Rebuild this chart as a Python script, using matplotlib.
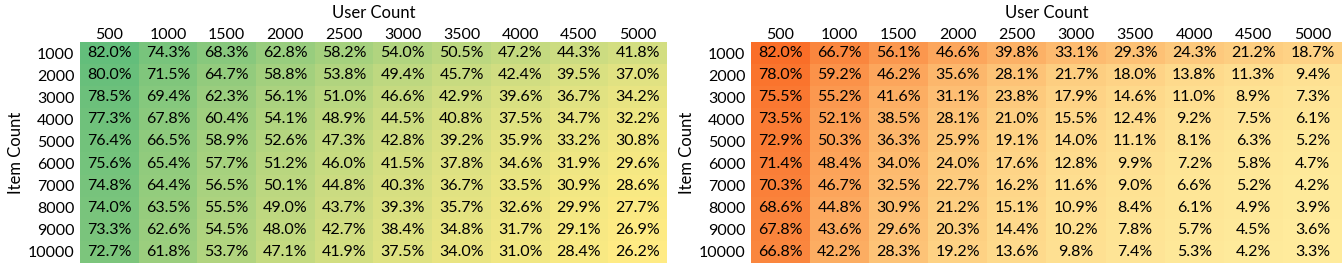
import numpy as np
import matplotlib
matplotlib.use("Agg")
from matplotlib import pyplot as plt
from matplotlib.colors import LinearSegmentedColormap

plt.rcParams['font.family'] = ['Lato', 'DejaVu Sans']

user_counts = [500, 1000, 1500, 2000, 2500, 3000, 3500, 4000, 4500, 5000]
item_counts = [1000, 2000, 3000, 4000, 5000, 6000, 7000, 8000, 9000, 10000]

# left table (green)
left_vals = [
    [82.0, 74.3, 68.3, 62.8, 58.2, 54.0, 50.5, 47.2, 44.3, 41.8],
    [80.0, 71.5, 64.7, 58.8, 53.8, 49.4, 45.7, 42.4, 39.5, 37.0],
    [78.5, 69.4, 62.3, 56.1, 51.0, 46.6, 42.9, 39.6, 36.7, 34.2],
    [77.3, 67.8, 60.4, 54.1, 48.9, 44.5, 40.8, 37.5, 34.7, 32.2],
    [76.4, 66.5, 58.9, 52.6, 47.3, 42.8, 39.2, 35.9, 33.2, 30.8],
    [75.6, 65.4, 57.7, 51.2, 46.0, 41.5, 37.8, 34.6, 31.9, 29.6],
    [74.8, 64.4, 56.5, 50.1, 44.8, 40.3, 36.7, 33.5, 30.9, 28.6],
    [74.0, 63.5, 55.5, 49.0, 43.7, 39.3, 35.7, 32.6, 29.9, 27.7],
    [73.3, 62.6, 54.5, 48.0, 42.7, 38.4, 34.8, 31.7, 29.1, 26.9],
    [72.7, 61.8, 53.7, 47.1, 41.9, 37.5, 34.0, 31.0, 28.4, 26.2],
]

# right table (orange)
right_vals = [
    [82.0, 66.7, 56.1, 46.6, 39.8, 33.1, 29.3, 24.3, 21.2, 18.7],
    [78.0, 59.2, 46.2, 35.6, 28.1, 21.7, 18.0, 13.8, 11.3, 9.4],
    [75.5, 55.2, 41.6, 31.1, 23.8, 17.9, 14.6, 11.0, 8.9, 7.3],
    [73.5, 52.1, 38.5, 28.1, 21.0, 15.5, 12.4, 9.2, 7.5, 6.1],
    [72.9, 50.3, 36.3, 25.9, 19.1, 14.0, 11.1, 8.1, 6.3, 5.2],
    [71.4, 48.4, 34.0, 24.0, 17.6, 12.8, 9.9, 7.2, 5.8, 4.7],
    [70.3, 46.7, 32.5, 22.7, 16.2, 11.6, 9.0, 6.6, 5.2, 4.2],
    [68.6, 44.8, 30.9, 21.2, 15.1, 10.9, 8.4, 6.1, 4.9, 3.9],
    [67.8, 43.6, 29.6, 20.3, 14.4, 10.2, 7.8, 5.7, 4.5, 3.6],
    [66.8, 42.2, 28.3, 19.2, 13.6, 9.8, 7.4, 5.3, 4.2, 3.3],
]

green_cmap = LinearSegmentedColormap.from_list("yg", ["#FFEB84", "#63BE7B"])
orange_cmap = LinearSegmentedColormap.from_list("yo", ["#FFEB9C", "#FA6E28"])

fig = plt.figure(figsize=(13.42, 2.65), dpi=100)


def draw(ax, vals, cmap):
    data = np.array(vals)
    ax.imshow(data, cmap=cmap, aspect='auto', vmin=data.min(), vmax=data.max())
    for i in range(data.shape[0]):
        for j in range(data.shape[1]):
            ax.text(j, i, "{:.1f}%".format(data[i, j]), ha='center', va='center',
                    fontsize=11.5, color='black')
    ax.set_xticks(range(len(user_counts)))
    ax.set_xticklabels(user_counts, fontsize=11.5)
    ax.set_yticks(range(len(item_counts)))
    ax.set_yticklabels(item_counts, fontsize=11.5)
    ax.xaxis.tick_top()
    ax.xaxis.set_label_position('top')
    ax.tick_params(axis='x', length=0, pad=0)
    ax.tick_params(axis='y', length=0, pad=4)
    ax.set_xlabel("User Count", fontsize=12, labelpad=7)
    ax.set_ylabel("Item Count", fontsize=12, labelpad=3)
    for s in ax.spines.values():
        s.set_visible(False)


ax1 = fig.add_axes([80 / 1342, 2 / 265, 587 / 1342, 221 / 265])
draw(ax1, left_vals, green_cmap)

ax2 = fig.add_axes([751 / 1342, 2 / 265, 591 / 1342, 221 / 265])
draw(ax2, right_vals, orange_cmap)

plt.savefig("out.png", dpi=100)
